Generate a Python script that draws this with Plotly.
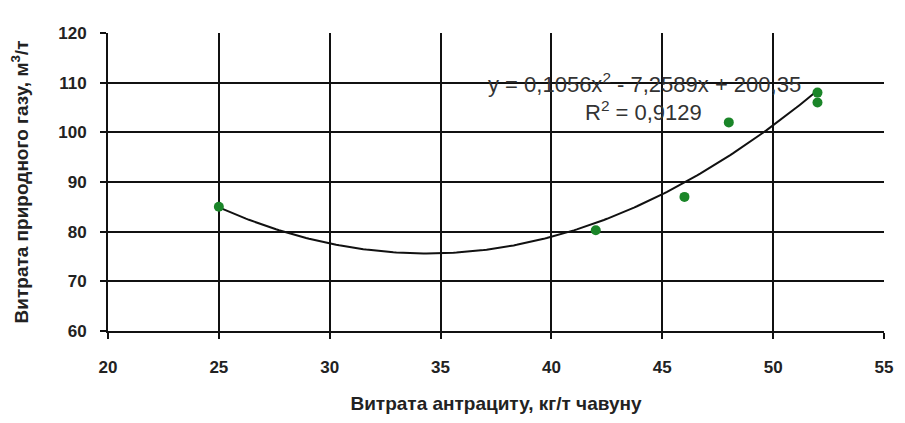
import numpy as np
import plotly.graph_objects as go

# Data
anthracite = [25, 42, 46, 48, 52, 52]          # кг/т чавуну
natural_gas = [85, 80.3, 87, 102, 108, 106]    # м³/т
trend_coef = [0.1056, -7.2589, 200.35]         # from the displayed trendline equation
trend_range = [25, 52]
r2_text = "R<sup>2</sup> = 0,9129"
eq_text = "y = 0,1056x<sup>2</sup> - 7,2589x + 200,35"

x_title = "Витрата антрациту, кг/т чавуну"
y_title = "Витрата природного газу, м<sup>3</sup>/т"

xt = np.linspace(trend_range[0], trend_range[1], 200)
yt = np.polyval(trend_coef, xt)

fig = go.Figure()
fig.add_trace(go.Scatter(x=xt, y=yt, mode="lines",
                         line=dict(color="#111111", width=2), showlegend=False,
                         hoverinfo="skip"))
fig.add_trace(go.Scatter(x=anthracite, y=natural_gas, mode="markers",
                         marker=dict(color="#1a8528", size=10), showlegend=False))

FAM = "Liberation Sans, Arial, sans-serif"
tickfont = dict(family=FAM, size=17, color="#222222", weight="bold")
titlefont = dict(family=FAM, size=19, color="#222222", weight="bold")

fig.update_layout(
    width=897, height=415,
    margin=dict(l=99, r=18, t=25, b=90),
    paper_bgcolor="white", plot_bgcolor="white",
    font=dict(family=FAM, size=14, color="#222222"),
    xaxis=dict(range=[20, 55], dtick=5, showgrid=True, gridcolor="#111111", gridwidth=2,
               showline=True, linecolor="#111111", linewidth=2,
               ticks="outside", ticklen=6, tickcolor="#111111", tickwidth=2,
               ticklabelstandoff=14, zeroline=False, tickfont=tickfont,
               title=dict(text=x_title, standoff=20, font=titlefont)),
    yaxis=dict(range=[60, 120], dtick=10, showgrid=True, gridcolor="#111111", gridwidth=2,
               showline=True, linecolor="#111111", linewidth=2,
               ticks="outside", ticklen=6, tickcolor="#111111", tickwidth=2,
               ticklabelstandoff=10, zeroline=False, tickfont=tickfont,
               title=dict(text=y_title, standoff=25, font=titlefont)),
    annotations=[
        dict(x=0.692, y=110, xref="paper", yref="y", text=eq_text, showarrow=False,
             xanchor="center", yanchor="middle",
             font=dict(family=FAM, size=22, color="#333333")),
        dict(x=0.69, y=104.2, xref="paper", yref="y", text=r2_text, showarrow=False,
             xanchor="center", yanchor="middle",
             font=dict(family=FAM, size=22, color="#333333")),
    ],
)
fig.write_html("out.html")
